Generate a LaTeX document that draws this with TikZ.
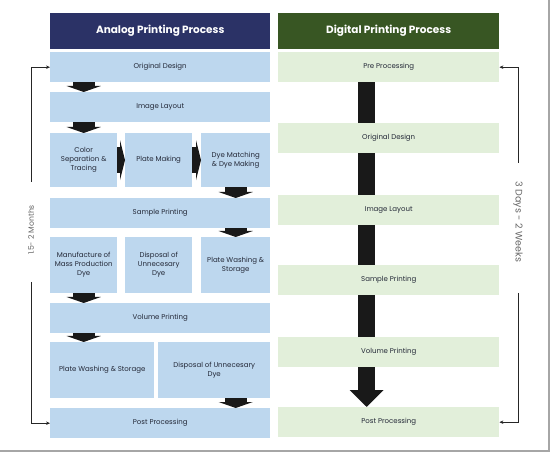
\documentclass[tikz,border=0pt]{standalone}
\usepackage{fontspec}
\setmainfont{Poppins}
\usepackage{tikz}
\usetikzlibrary{arrows.meta}

\definecolor{analog}{RGB}{43,50,102}
\definecolor{analogbox}{RGB}{189,215,238}
\definecolor{digital}{RGB}{56,86,35}
\definecolor{digitalbox}{RGB}{226,239,218}
\definecolor{boxtext}{RGB}{35,40,55}

\tikzset{
   box/.style={anchor=north west, inner sep=1pt, align=center, text=boxtext,
      font=\fontsize{7}{9}\selectfont},
   abox/.style 2 args={box, fill=analogbox, minimum width=#1pt, minimum height=#2pt},
   dbox/.style={box, fill=digitalbox, minimum width=221pt, minimum height=30pt},
   head/.style={box, text=white, minimum width=#1pt, minimum height=36pt,
      font=\bfseries\fontsize{10.5}{12}\selectfont},
   downarr/.style={draw=black!90, line width=22pt, -{Triangle[width=34pt,length=6pt]}},
   rightarr/.style={draw=black!90, line width=26pt, -{Triangle[width=40pt,length=5pt]}},
   bar/.style={draw=black!90, line width=17pt},
   timeline/.style={draw=black!85, line width=0.9pt, -{Stealth[length=4pt,width=3.5pt]}},
   period/.style={text=black!60, font=\fontsize{#1}{9}\selectfont}
}

\begin{document}
\begin{tikzpicture}[x=1pt, y=-1pt]

   \useasboundingbox (0,0) rectangle (552,457);
   \draw[black!35, line width=1.2pt] (0,451) -- (549,451) -- (549,0);

   \node[head=220, fill=analog] (ahead) at (50,13) {Analog Printing Process};
   \node[abox={220}{30}] (a1) at (50,52) {Original Design};
   \node[abox={220}{30}] (a2) at (50,92) {Image Layout};
   \node[abox={67}{54}] (a3) at (50,133) {Color\\Separation \&\\Tracing};
   \node[abox={67}{54}] (a4) at (125,133) {Plate Making};
   \node[abox={69}{54}] (a5) at (201,133) {Dye Matching\\\& Dye Making};
   \node[abox={220}{30}] (a6) at (50,198) {Sample Printing};
   \node[abox={67}{56}] (a7) at (50,237) {Manufacture of\\Mass Production\\Dye};
   \node[abox={67}{56}] (a8) at (125,237) {Disposal of\\Unnecesary\\Dye};
   \node[abox={69}{56}] (a9) at (201,237) {Plate Washing \&\\Storage};
   \node[abox={220}{30}] (a10) at (50,303) {Volume Printing};
   \node[abox={104}{56}] (a11) at (50,342) {Plate Washing \& Storage};
   \node[abox={112}{56}] (a12) at (158,342) {Disposal of Unnecesary\\Dye};
   \node[abox={220}{30}] (a13) at (50,408) {Post Processing};

   \draw[downarr] (a3.north |- a1.south) -- (a3.north |- a2.north);
   \draw[downarr] (a3.north |- a2.south) -- (a3.north);
   \draw[rightarr] (a3.east) -- (a4.west);
   \draw[rightarr] (a4.east) -- (a5.west);
   \draw[downarr] (a5.south) -- (a5.south |- a6.north);
   \draw[downarr] (a9.north |- a6.south) -- (a9.north);
   \draw[downarr] (a7.south) -- (a7.south |- a10.north);
   \draw[downarr] (a7.south |- a10.south) -- (a7.south |- a11.north);
   \draw[downarr] (a9.south |- a12.south) -- (a9.south |- a13.north);

   \node[head=221, fill=digital] (dhead) at (278,13) {Digital Printing Process};
   \node[dbox] (d1) at (278,52) {Pre Processing};
   \node[dbox] (d2) at (278,123) {Original Design};
   \node[dbox] (d3) at (278,195) {Image Layout};
   \node[dbox] (d4) at (278,265) {Sample Printing};
   \node[dbox] (d5) at (278,337) {Volume Printing};
   \node[dbox] (d6) at (278,407) {Post Processing};

   \draw[bar] ([xshift=-22pt]d1.south) -- ([xshift=-22pt]d2.north);
   \draw[bar] ([xshift=-22pt]d2.south) -- ([xshift=-22pt]d3.north);
   \draw[bar] ([xshift=-22pt]d3.south) -- ([xshift=-22pt]d4.north);
   \draw[bar] ([xshift=-22pt]d4.south) -- ([xshift=-22pt]d5.north);
   \draw[bar, -{Triangle[width=33pt,length=17pt]}] ([xshift=-22pt]d5.south) -- ([xshift=-22pt]d6.north);

   \node[period=7.7, rotate=90] (amonths) at (31,230) {1.5- 2 Months};
   \coordinate (atop) at (31,182);
   \coordinate (abot) at (31,282);
   \draw[timeline] (atop) |- (a1.west);
   \draw[timeline] (abot) |- (a13.west);

   \node[period=9.5, rotate=-90] (dweeks) at (518,222) {3 Days - 2 Weeks};
   \coordinate (dtop) at (518,163);
   \coordinate (dbot) at (518,293);
   \draw[timeline] (dtop) |- (d1.east);
   \draw[timeline] (dbot) |- (d6.east);

\end{tikzpicture}
\end{document}
